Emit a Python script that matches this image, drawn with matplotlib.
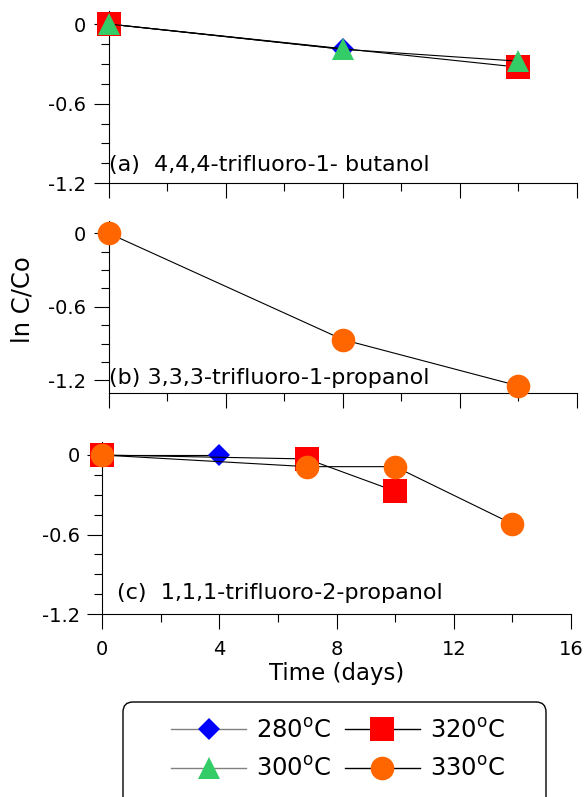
import matplotlib
matplotlib.use('Agg')
import matplotlib.pyplot as plt
from matplotlib.lines import Line2D
from matplotlib.patches import FancyBboxPatch
from matplotlib.ticker import MultipleLocator, FixedLocator
from matplotlib.transforms import IdentityTransform

plt.rcParams['font.family'] = ['DejaVu Sans']
plt.rcParams['mathtext.fontset'] = 'dejavusans'

# ---------------- data ----------------
# panel (a) 4,4,4-trifluoro-1-butanol
a_280_days = [0, 8]
a_280_lnc = [0.0, -0.19]
a_320_days = [0, 14]
a_320_lnc = [0.0, -0.325]
a_300_days = [0, 8, 14]
a_300_lnc = [0.0, -0.19, -0.28]
# panel (b) 3,3,3-trifluoro-1-propanol
b_330_days = [0, 8, 14]
b_330_lnc = [0.0, -0.868, -1.246]
# panel (c) 1,1,1-trifluoro-2-propanol
c_280_days = [0, 4]
c_280_lnc = [0.0, 0.0]
c_320_days = [0, 7, 10]
c_320_lnc = [0.0, -0.03, -0.273]
c_330_days = [0, 7, 10, 14]
c_330_lnc = [0.0, -0.088, -0.088, -0.52]

panel_labels = ['(a)  4,4,4-trifluoro-1- butanol',
                '(b) 3,3,3-trifluoro-1-propanol',
                '(c)  1,1,1-trifluoro-2-propanol']
legend_labels = ['280$^{\\mathrm{o}}$C', '300$^{\\mathrm{o}}$C',
                 '320$^{\\mathrm{o}}$C', '330$^{\\mathrm{o}}$C']
ytick_vals = [0, -0.6, -1.2]
ytick_text = ['0', '-0.6', '-1.2']
xtick_vals = [0, 4, 8, 12, 16]
xtick_text = ['0', '4', '8', '12', '16']

# ---------------- styles ----------------
styles = {
    '280': dict(marker='D', color='#0000FF', ms=11.7),
    '300': dict(marker='^', color='#33CC66', ms=16.0),
    '320': dict(marker='s', color='#FF0000', ms=17.0),
    '330': dict(marker='o', color='#FF6600', ms=17.0),
}
TICK_FS = 14
LABEL_FS = 16
AXLABEL_FS = 16.5
LEG_FS = 17.5

W, H = 587, 797
fig = plt.figure(figsize=(W / 100, H / 100), dpi=100)


def add_ax(left, right, top, bottom):
    return fig.add_axes([left / W, 1 - bottom / H, (right - left) / W, (bottom - top) / H])


ax_a = add_ax(108.7, 577.0, 10.75, 183.3)
ax_b = add_ax(108.7, 577.0, 221.0, 392.5)
ax_c = add_ax(102.0, 571.0, 441.75, 614.0)


def series(ax, x, y, key):
    st = styles[key]
    ax.plot(x, y, color='black', lw=0.8, marker=st['marker'], ms=st['ms'],
            mfc=st['color'], mec='none', mew=0, clip_on=False, zorder=3)


series(ax_a, a_280_days, a_280_lnc, '280')
series(ax_a, a_320_days, a_320_lnc, '320')
series(ax_a, a_300_days, a_300_lnc, '300')
series(ax_b, b_330_days, b_330_lnc, '330')
series(ax_c, c_280_days, c_280_lnc, '280')
series(ax_c, c_320_days, c_320_lnc, '320')
series(ax_c, c_330_days, c_330_lnc, '330')

for ax, ylo in ((ax_a, -1.2), (ax_b, -1.3), (ax_c, -1.2)):
    ax.set_xlim(0, 16)
    ax.set_ylim(ylo, 0.1)
    ax.spines['top'].set_visible(False)
    ax.spines['right'].set_visible(False)
    for s in ('left', 'bottom'):
        ax.spines[s].set_linewidth(0.8)
    ax.xaxis.set_major_locator(FixedLocator(xtick_vals))
    ax.xaxis.set_minor_locator(MultipleLocator(2))
    ax.set_yticks(ytick_vals, ytick_text)
    ax.yaxis.set_minor_locator(MultipleLocator(0.15))
    ax.tick_params(which='major', direction='out', length=11, width=0.8,
                   labelsize=TICK_FS, pad=5)
    ax.tick_params(which='minor', direction='out', length=5.5, width=0.8)
    ax.patch.set_visible(False)

ax_a.tick_params(axis='x', labelbottom=False)
ax_b.tick_params(axis='x', labelbottom=False)
ax_c.set_xticks(xtick_vals, xtick_text)
ax_c.tick_params(axis='x', pad=8)
ax_c.set_xlabel('Time (days)', fontsize=AXLABEL_FS, labelpad=2)

ax_a.text(0, -1.107, panel_labels[0], fontsize=LABEL_FS, ha='left', va='baseline')
ax_b.text(0, -1.233, panel_labels[1], fontsize=LABEL_FS, ha='left', va='baseline')
ax_c.text(0.5, -1.087, panel_labels[2], fontsize=LABEL_FS, ha='left', va='baseline')

fig.text(22 / W, 1 - 300 / H, 'ln C/Co', rotation=90, fontsize=AXLABEL_FS + 1,
         ha='center', va='center')

# legend
handles = []
line_cols = {'280': '#808080', '300': '#808080', '320': 'black', '330': 'black'}
for key in ('280', '300', '320', '330'):
    st = styles[key]
    handles.append(Line2D([], [], color=line_cols[key], lw=1.0, marker=st['marker'],
                          ms=st['ms'], mfc=st['color'], mec='none', mew=0))
fig.legend(handles, legend_labels, ncol=2, fontsize=LEG_FS, frameon=False,
           handlelength=3.1, handletextpad=0.4, columnspacing=0.55,
           labelspacing=0.6, loc='center',
           bbox_to_anchor=(338 / W, 1 - 750 / H), bbox_transform=fig.transFigure)

box = FancyBboxPatch((123, -40), 423, 797 - 702 + 40,
                     boxstyle='round,pad=0,rounding_size=10',
                     transform=IdentityTransform(), fc='none', ec='black', lw=1.0)
fig.add_artist(box)

fig.savefig('out.png', dpi=100)
